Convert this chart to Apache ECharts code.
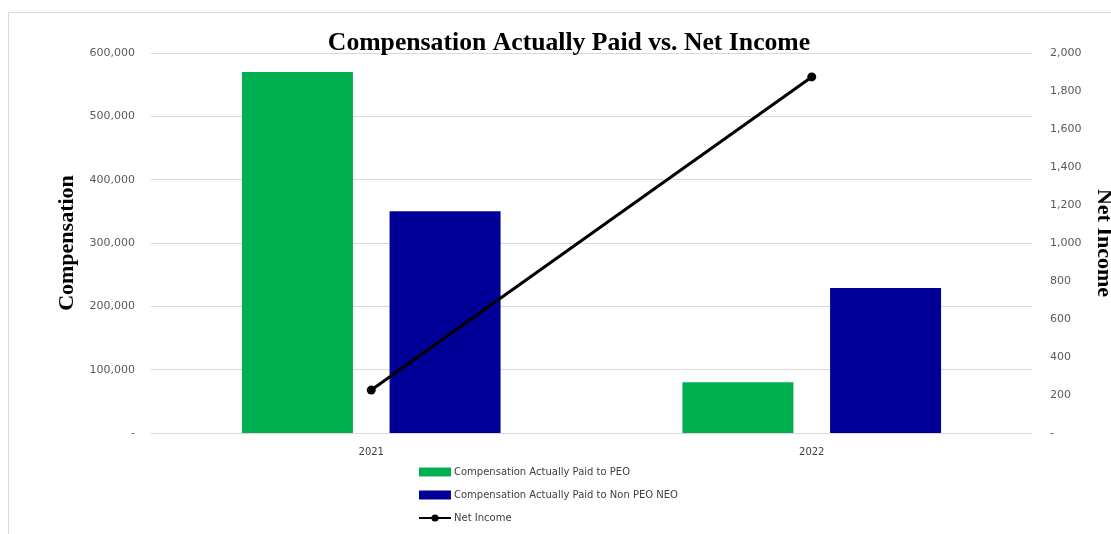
<!DOCTYPE html>
<html>
	<head>
		<meta charset="utf-8">
		<title>CAP vs Net Income</title>
		<script src="https://cdn.jsdelivr.net/npm/echarts@6/dist/echarts.min.js"></script>
		<style>
			body { margin: 0; background: #fff; }
			#box { width: 1111px; height: 534px; position: relative; }
			#frame { position: absolute; left: 8px; top: 12px; width: 1110px; height: 530px; border: 1px solid #d9d9d9; box-sizing: border-box; }
			#chart { position: absolute; left: 0; top: 0; width: 1111px; height: 534px; }
		</style>
	</head>
	<body>
		<div id="box">
			<div id="frame"></div>
			<div id="chart"></div>
		</div>
		<script>
			var mCharts = echarts.init(document.querySelector('#chart'))

			// 年份
			var years = ['2021', '2022']
			// 补偿数据
			var peoPaid = [570000, 80000]
			var neoPaid = [350000, 229000]
			// 净收入
			var netIncome = [226, 1874]

			var tickFont = 'DejaVu Sans'
			var serif = 'Liberation Serif'

			function fmt(v) {
				if (v === 0) return '-'
				return v.toLocaleString('en-US')
			}

			var option = {
				animation: false,
				title: {
					text: 'Compensation Actually Paid vs. Net Income',
					left: 564,
					textAlign: 'center',
					top: 25,
					textStyle: { fontFamily: serif, fontSize: 25.7, fontWeight: 'bold', color: '#000' }
				},
				grid: { left: 151, right: 79, top: 53, bottom: 101, outerBoundsMode: 'none' },
				legend: {
					orient: 'vertical',
					left: 418,
					top: 467,
					padding: 0,
					itemGap: 13,
					itemWidth: 32,
					itemHeight: 9,
					textStyle: { fontFamily: tickFont, fontSize: 10, color: '#404040', padding: [0, 0, 0, -2] },
					data: [
						{ name: 'Compensation Actually Paid to PEO', icon: 'rect' },
						{ name: 'Compensation Actually Paid to Non PEO NEO', icon: 'rect' },
						{ name: 'Net Income' }
					]
				},
				xAxis: {
					type: 'category',
					data: years,
					axisLine: { lineStyle: { color: '#d9d9d9' } },
					axisTick: { show: false },
					axisLabel: { fontFamily: tickFont, fontSize: 10, color: '#404040', margin: 14 }
				},
				yAxis: [
					{
						type: 'value',
						min: 0,
						max: 600000,
						interval: 100000,
						name: 'Compensation',
						nameLocation: 'middle',
						nameGap: 73,
						nameTextStyle: { fontFamily: serif, fontSize: 22, fontWeight: 'bold', color: '#000' },
						axisLine: { show: false },
						axisTick: { show: false },
						splitLine: { lineStyle: { color: '#d9d9d9' } },
						axisLabel: { fontFamily: tickFont, fontSize: 11, color: '#595959', margin: 16, formatter: fmt }
					},
					{
						type: 'value',
						min: 0,
						max: 2000,
						interval: 200,
						position: 'right',
						name: 'Net Income',
						nameLocation: 'middle',
						nameRotate: -90,
						nameGap: 61,
						nameTextStyle: { fontFamily: serif, fontSize: 22, fontWeight: 'bold', color: '#000' },
						axisLine: { show: false },
						axisTick: { show: false },
						splitLine: { show: false },
						axisLabel: { fontFamily: tickFont, fontSize: 11, color: '#595959', margin: 18, formatter: fmt }
					}
				],
				series: [
					{
						name: 'Compensation Actually Paid to PEO',
						type: 'bar',
						data: peoPaid,
						barWidth: 111,
						barGap: '33%',
						itemStyle: { color: '#00b050' }
					},
					{
						name: 'Compensation Actually Paid to Non PEO NEO',
						type: 'bar',
						data: neoPaid,
						barWidth: 111,
						itemStyle: { color: '#000099' }
					},
					{
						name: 'Net Income',
						type: 'line',
						yAxisIndex: 1,
						data: netIncome,
						symbol: 'circle',
						symbolSize: 9,
						lineStyle: { color: '#000', width: 3 },
						itemStyle: { color: '#000' }
					}
				]
			}
			mCharts.setOption(option)
		</script>
	</body>
</html>
